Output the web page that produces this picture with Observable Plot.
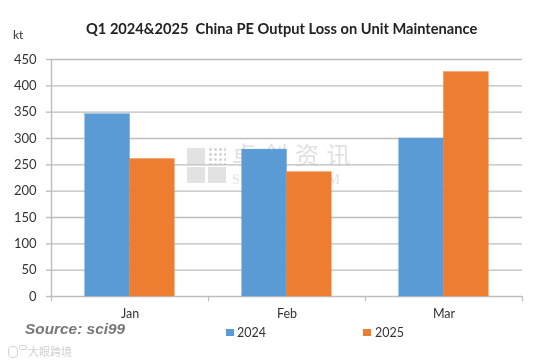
<!DOCTYPE html>
<html><head><meta charset="utf-8">
<script src="https://cdn.jsdelivr.net/npm/d3@7"></script>
<script src="https://cdn.jsdelivr.net/npm/@observablehq/plot@0.6"></script>
<style>
html,body{margin:0;padding:0;background:#fff}
#wrap{position:relative;width:542px;height:363px;overflow:hidden;filter:blur(.35px)}
#wrap>*{position:absolute;white-space:nowrap}
#chart{left:0;top:0}
#chart svg{background:transparent;display:block}
.t{font-family:Lato,sans-serif;color:#333}
.sw{width:8px;height:7px}
.wm{color:#e0e0e0;font-family:"Noto Sans CJK SC",sans-serif;line-height:1}
.sq{background:#e2e2e2}
</style></head><body>
<div id="wrap">
<div class="sq" style="left:187px;top:148px;width:18px;height:17px"></div>
<div style="left:208px;top:147px;width:18px;height:18px;background-image:radial-gradient(#d8d8d8 1.3px,transparent 1.7px);background-size:5px 5px"></div>
<div class="sq" style="left:187px;top:167px;width:18px;height:16px"></div>
<div class="sq" style="left:208px;top:167px;width:18px;height:16px"></div>
<div class="wm" style="left:232px;top:142px;font-size:24px;letter-spacing:7.5px" id="wm1"></div>
<div class="wm" style="left:232px;top:173px;font-family:'Liberation Serif',serif;font-size:14px;letter-spacing:4.6px" id="wm2"></div>
<div id="chart"></div>
<div class="t" id="title" style="left:86px;top:20px;font-size:14.65px;font-weight:700;color:#222;white-space:pre"></div>
<div class="t" id="unit" style="left:13px;top:27px;font-size:12px"></div>
<div id="source" style="left:25px;top:320px;font:italic 700 15.4px 'Liberation Sans',sans-serif;color:#777"></div>
<div class="sw" style="left:226px;top:329px;background:#5b9bd5"></div>
<div class="t" id="l0" style="left:237px;top:325px;font-size:12.5px"></div>
<div class="sw" style="left:363px;top:329px;background:#ed7d31"></div>
<div class="t" id="l1" style="left:375px;top:325px;font-size:12.5px"></div>
<div style="left:8px;top:346px;width:8px;height:10px;border:1.5px solid #d4d4d4;border-radius:4px"></div>
<div style="left:19px;top:345px;width:6px;height:3px;border:1px solid #d4d4d4;border-radius:2px"></div>
<div id="mark" style="left:28px;top:343px;font:11px 'Noto Sans CJK SC',sans-serif;color:#d0d0d0"></div>
</div>
<script>
const months = ["Jan", "Feb", "Mar"];
const series = ["2024", "2025"];
const values2024 = [346, 279, 300];
const values2025 = [261, 236, 426];
const colors = ["#5b9bd5", "#ed7d31"];
const yTicks = [0, 50, 100, 150, 200, 250, 300, 350, 400, 450];
const titleText = "Q1 2024&2025  China PE Output Loss on Unit Maintenance";

const rows = months.flatMap((m, i) => [
  {month: m, series: series[0], value: values2024[i]},
  {month: m, series: series[1], value: values2025[i]}
]);
const gridRows = months.flatMap(m => yTicks.map(v => ({month: m, value: v})));
const first = months[0], last = months[months.length - 1];
const grey = "#bdbdbd";
const groupStep = 157, barW = 44.75, gap = (groupStep - 2 * barW) / 2;
const plot = Plot.plot({
  width: 542, height: 363,
  marginLeft: 51, marginRight: 20, marginTop: 59, marginBottom: 67,
  style: {background: "transparent", fontFamily: "Lato, sans-serif", fontSize: "12.5px", color: "#333"},
  fx: {domain: months, paddingInner: 0.43, paddingOuter: 0.215, round: false, label: null, axis: null},
  x: {domain: series, padding: 0, round: false, axis: null},
  y: {domain: [0, 450], label: null, axis: null},
  color: {domain: series, range: colors},
  marks: [
    // horizontal gridlines, spanning the whole category step
    Plot.ruleY(gridRows, {fx: "month", y: "value", stroke: grey, strokeWidth: 1.4, insetLeft: -gap, insetRight: -gap}),
    // y tick marks and y axis line, left of the first category
    Plot.ruleY(yTicks, {fx: () => first, y: d => d, stroke: grey, strokeWidth: 1.4, insetLeft: -gap - 5, insetRight: groupStep - gap}),
    Plot.ruleX([first], {fx: d => d, x: () => series[0], y1: 0, y2: 450, dx: -groupStep / 2 + barW / 2, stroke: grey, strokeWidth: 1.4}),
    Plot.barY(rows, {fx: "month", x: "series", y: "value", fill: "series", stroke: "series", strokeWidth: 0.4}),
    // x tick marks at the category boundaries
    Plot.ruleX(months, {fx: d => d, x: () => series[0], y1: 0, y2: -10, dx: -groupStep / 2 + barW / 2, stroke: grey, strokeWidth: 1.2}),
    Plot.ruleX([last], {fx: d => d, x: () => series[0], y1: 0, y2: -10, dx: groupStep / 2 + barW / 2, stroke: grey, strokeWidth: 1.2}),
    // tick labels
    Plot.text(yTicks, {fx: () => first, y: d => d, text: d => String(d), frameAnchor: "left", textAnchor: "end", dx: -gap - 15, fill: "#333", fontSize: 13}),
    Plot.text(months, {fx: d => d, text: d => d, frameAnchor: "bottom", dy: 21, fill: "#333", fontSize: 12.5})
  ]
});
document.getElementById("chart").append(plot);
document.getElementById("title").textContent = titleText;
document.getElementById("unit").textContent = "kt";
document.getElementById("source").textContent = "Source: sci99";
document.getElementById("l0").textContent = series[0];
document.getElementById("l1").textContent = series[1];
document.getElementById("wm1").textContent = "卓创资讯";
document.getElementById("wm2").textContent = "SCI99.COM";
document.getElementById("mark").textContent = "大眼跨境";
</script></body></html>
